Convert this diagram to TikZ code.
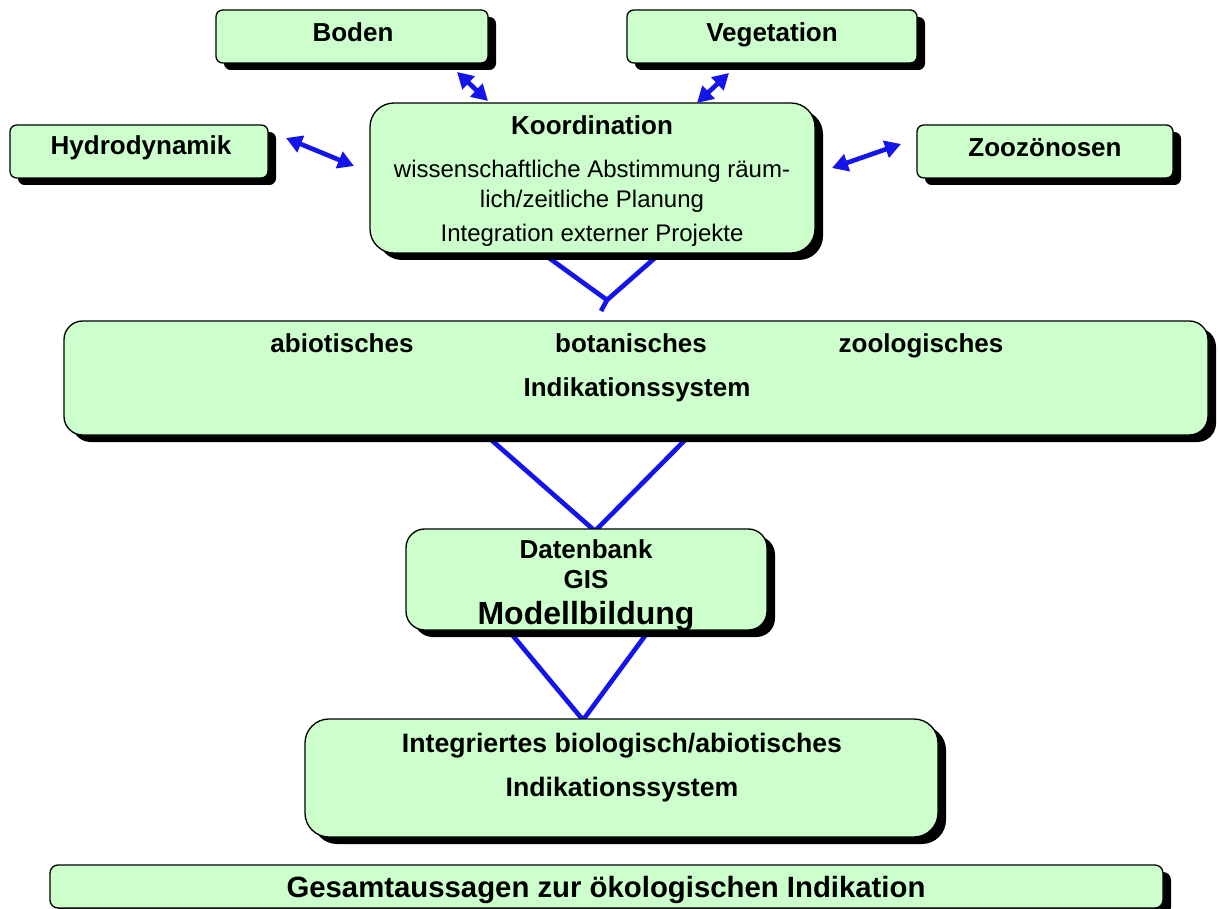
\documentclass[tikz,border=0pt]{standalone}
\usepackage{fontspec}
\setmainfont{Liberation Sans}
\usetikzlibrary{arrows.meta,shadows,backgrounds,fit}
\definecolor{boxgreen}{RGB}{204,255,204}
\definecolor{lineblue}{RGB}{20,20,235}
\begin{document}
\begin{tikzpicture}[x=0.75pt,y=-0.75pt,
  box/.style={draw=black, line width=1pt, fill=boxgreen, rounded corners=#1, inner sep=0pt,
    drop shadow={shadow xshift=6pt, shadow yshift=-5.25pt, fill=black, opacity=1}},
  box/.default=5pt,
  txt/.style={anchor=base, inner sep=0pt},
  bigb/.style={font=\fontsize{19.5}{23}\selectfont\bfseries},
  reg/.style={font=\fontsize{18}{21}\selectfont},
  link/.style={draw=lineblue, line width=3.5pt},
  twoway/.style={draw=lineblue, line width=3.5pt,
    {Triangle[length=12pt,width=13pt]}-{Triangle[length=12pt,width=13pt]}}
]
\useasboundingbox (0,0) rectangle (1218,909);

% boxes
\node[box, fit={(216,10) (488,63)}] (boden) {};
\node[box, fit={(627,10) (917,63)}] (veg) {};
\node[box, fit={(10,125) (268,178)}] (hydro) {};
\node[box, fit={(917,125) (1173,178)}] (zoo) {};
\node[box=18pt, fit={(370,103) (815,253)}] (koord) {};
\node[box=14pt, fit={(64,321) (1208,435)}] (indik) {};
\node[box=14pt, fit={(406,529) (767,630)}] (daten) {};
\node[box=18pt, fit={(305,719) (938,837)}] (integ) {};
\node[box=6pt, fit={(50,865) (1163,908)}] (gesamt) {};

% texts
\node[txt, bigb] (t1) at (353,42) {Boden};
\node[txt, bigb] (t2) at (772,42) {Vegetation};
\node[txt, bigb] (t3) at (141,155) {Hydrodynamik};
\node[txt, bigb] (t4) at (1045,157) {Zoozönosen};

\node[txt, bigb] (k1) at (592,135) {Koordination};
\node[txt, reg] (k2) at (592,178) {wissenschaftliche Abstimmung räum-};
\node[txt, reg] (k3) at (592,208) {lich/zeitliche Planung};
\node[txt, reg] (k4) at (592,242) {Integration externer Projekte};

\node[txt, bigb] (i1) at (342,353) {abiotisches};
\node[txt, bigb] (i2) at (631,353) {botanisches};
\node[txt, bigb] (i3) at (921,353) {zoologisches};
\node[txt, bigb] (i4) at (637,397) {Indikationssystem};

\node[txt, bigb] (d1) at (586,558) {Datenbank};
\node[txt, bigb] (d2) at (586,588) {GIS};
\node[txt, font=\fontsize{24}{28}\selectfont\bfseries] (d3) at (586,624) {Modellbildung};

\node[txt, font=\fontsize{20}{24}\selectfont\bfseries] (g1) at (622,752) {Integriertes biologisch/abiotisches};
\node[txt, font=\fontsize{20}{24}\selectfont\bfseries] (g2) at (622,796) {Indikationssystem};

\node[txt, font=\fontsize{22}{26}\selectfont\bfseries] (ge) at (606,897) {Gesamtaussagen zur ökologischen Indikation};

% arrow end points
\coordinate (bo1) at (457,72);  \coordinate (bo2) at (488,101);
\coordinate (ve1) at (729,73);  \coordinate (ve2) at (697,103);
\coordinate (hy1) at (286,138); \coordinate (hy2) at (354,166);
\coordinate (zo1) at (901,144); \coordinate (zo2) at (832,168);
\draw[twoway] (bo1) -- (bo2);
\draw[twoway] (ve1) -- (ve2);
\draw[twoway] (hy1) -- (hy2);
\draw[twoway] (zo1) -- (zo2);

% V connectors
\coordinate (kl) at (538,250); \coordinate (kr) at (664,250);
\coordinate (kv) at (607,300); \coordinate (kt) at (601,311);
\coordinate (il) at (480,430); \coordinate (ir) at (695,430);
\coordinate (iv) at (595,531);
\coordinate (dl) at (504,625); \coordinate (dr) at (653,625);
\coordinate (dv) at (583,720);
\begin{scope}[on background layer]
\draw[link] (kl) -- (kv) -- (kr);
\draw[link] (kv) -- (kt);
\draw[link] (il) -- (iv) -- (ir);
\draw[link] (dl) -- (dv) -- (dr);
\end{scope}
\end{tikzpicture}
\end{document}
